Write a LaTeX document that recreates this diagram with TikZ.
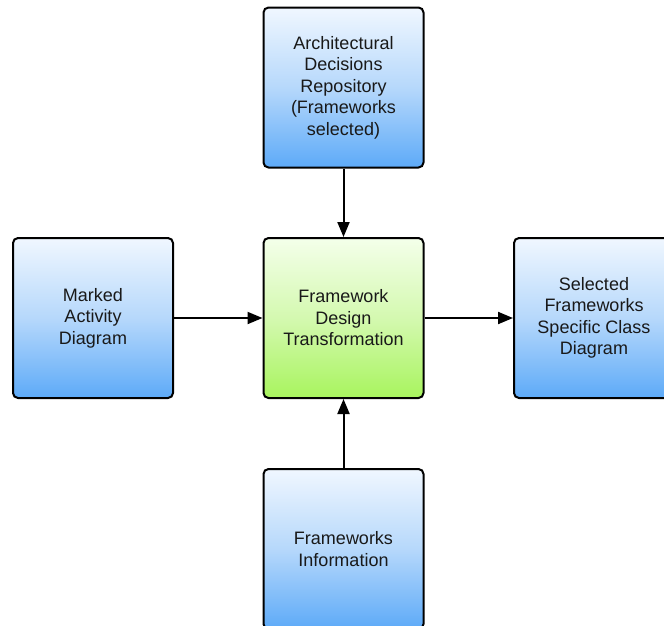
\documentclass[tikz,border=0pt]{standalone}
\usepackage{fontspec}
\setmainfont{Liberation Sans}
\usetikzlibrary{arrows.meta}
\definecolor{bluetop}{HTML}{F0F7FF}
\definecolor{bluemid}{HTML}{B6D8FB}
\definecolor{bluebot}{HTML}{5DAAF8}
\definecolor{greentop}{HTML}{F4FFEA}
\definecolor{greenmid}{HTML}{D4F9B0}
\definecolor{greenbot}{HTML}{A8F45E}
\tikzset{
  box/.style={draw=black, line width=2pt, rounded corners=5pt,
    minimum width=160pt, minimum height=160pt, align=center,
    font=\fontsize{18pt}{21.5pt}\selectfont, text=black!90, inner sep=0pt},
  bluebox/.style={box, top color=bluetop, bottom color=bluebot, middle color=bluemid},
  greenbox/.style={box, top color=greentop, bottom color=greenbot, middle color=greenmid},
  flow/.style={line width=2pt, -{Triangle[length=15pt,width=12pt]}}
}
\begin{document}
\begin{tikzpicture}[x=1pt,y=-1pt]
\useasboundingbox (0,0) rectangle (664,625);
\begin{scope}
\clip (0,0) rectangle (664,625);
\node[bluebox] (adr) at (343.5,87.5) {Architectural\\Decisions\\Repository\\(Frameworks\\selected)};
\node[bluebox] (mad) at (93,318) {Marked\\Activity\\Diagram};
\node[greenbox] (fdt) at (343.5,318) {Framework\\Design\\Transformation};
\node[bluebox] (sfc) at (594,318) {Selected\\Frameworks\\Specific Class\\Diagram};
\node[bluebox] (fwi) at (343.5,549) {Frameworks\\Information};
\draw[flow] (adr) -- (fdt);
\draw[flow] (mad) -- (fdt);
\draw[flow] (fdt) -- (sfc);
\draw[flow] (fwi) -- (fdt);
\end{scope}
\end{tikzpicture}
\end{document}
